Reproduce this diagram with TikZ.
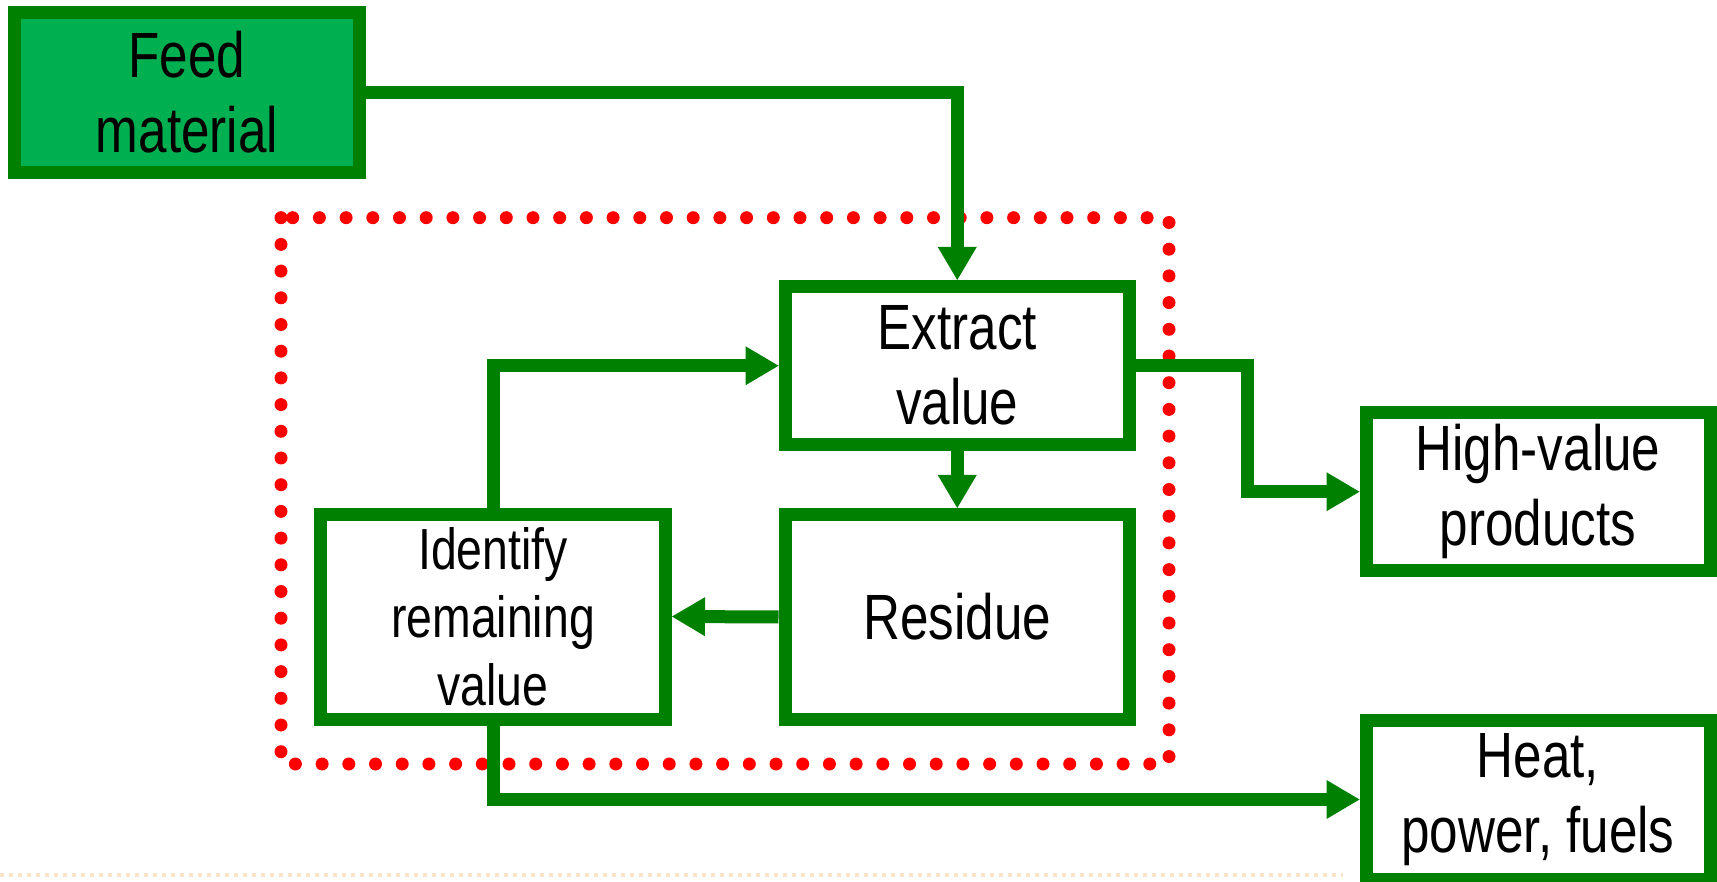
\documentclass[tikz,border=0pt]{standalone}
\usepackage{fontspec}
\setmainfont{Liberation Sans}[FakeStretch=0.8]
\usetikzlibrary{arrows.meta}
\definecolor{boxgreen}{HTML}{008000}
\definecolor{feedfill}{HTML}{00B050}
\definecolor{dotred}{HTML}{FF0000}
\definecolor{footer}{HTML}{FBE5C8}
\tikzset{
  stagebox/.style={draw=boxgreen, line width=13pt, fill=white, rectangle,
    inner sep=0pt, align=center, text=black,
    font=\fontsize{64}{75}\selectfont},
  flow/.style={draw=boxgreen, line width=13pt,
    -{Triangle[width=39pt,length=33pt,line width=0pt]}},
}
\begin{document}
\begin{tikzpicture}[x=1pt,y=-1pt]
\useasboundingbox (0,0) rectangle (1717,882);
% faint footer line
\draw[footer, line width=4pt, dash pattern=on 4pt off 5pt] (0,875) -- (1343,875);
% red dotted frame
\draw[dotred, line width=13pt, line cap=round, dash pattern=on 0pt off 26.7pt]
  (281,217.7) rectangle (1169,764);
% boxes
\node[stagebox, fill=feedfill, minimum width=345.5pt, minimum height=159.3pt] (feed) at (187,92.4) {Feed\\material};
\node[stagebox, minimum width=344.5pt, minimum height=158.5pt] (extract) at (957.25,365.75) {Extract\\value};
\node[stagebox, minimum width=344.5pt, minimum height=205pt] (residue) at (957.25,617) {Residue};
\node[stagebox, minimum width=345pt, minimum height=205pt, font=\fontsize{58}{68}\selectfont] (identify) at (493,616.5) {Identify\\remaining\\value};
\node[stagebox, minimum width=344pt, minimum height=157.5pt] (high) at (1538,491.75) {High-value\\products};
\node[stagebox, minimum width=344pt, minimum height=159pt] (heat) at (1538,799.5) {Heat,\\power, fuels};
% connectors
\coordinate (hvbend) at (1247.5,365.75);
\draw[flow] (feed.east) -| (extract.north);
\draw[flow] (extract.east) -- (hvbend) |- (high.west);
\draw[flow] (extract.south) -- (residue.north);
\draw[flow] (residue.west) -- (identify.east);
\draw[flow] (identify.north) |- (extract.west);
\draw[flow] (identify.south) |- (heat.west);
\end{tikzpicture}
\end{document}
